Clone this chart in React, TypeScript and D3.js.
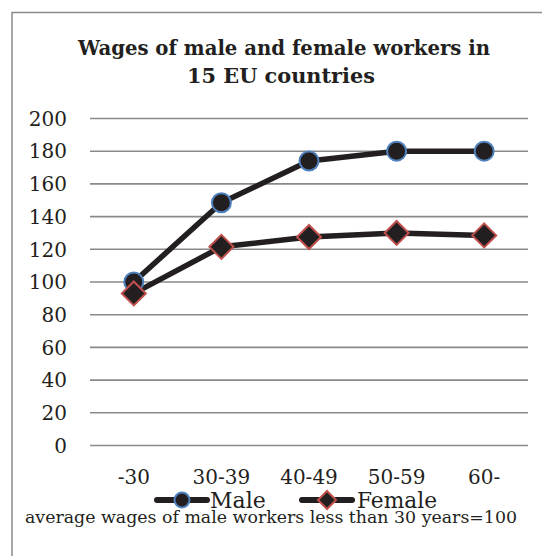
import React from "react";
import * as d3 from "d3";

// Age groups and wage index (male workers under 30 = 100)
const ageGroups = ["-30", "30-39", "40-49", "50-59", "60-"];
const maleWages = [100, 148.5, 174, 180, 180];
const femaleWages = [93, 121.5, 127.5, 130, 128.5];
const yTicks = [0, 20, 40, 60, 80, 100, 120, 140, 160, 180, 200];

const titleLines = ["Wages of male and female workers in", "15 EU countries"];
const footnote = "average wages of male workers less than 30 years=100";

const W = 542;
const H = 556;
const FONT = "'DejaVu Serif', 'Liberation Serif', serif";
const INK = "#231f20";
const GRID = "#8a8a8a";
const MALE_EDGE = "#4f81bd";
const FEMALE_EDGE = "#c0504d";

const x = d3.scaleBand<string>().domain(ageGroups).range([90, 528]);
const y = d3.scaleLinear().domain([0, 200]).range([445.5, 118.5]);
const cx = (d: string) => (x(d) ?? 0) + x.bandwidth() / 2;

const line = d3
  .line<number>()
  .x((_, i) => cx(ageGroups[i]))
  .y((v) => y(v));

const diamond = (r: number) => `M0,${-r}L${r},0L0,${r}L${-r},0Z`;

export default function App() {
  return (
    <svg
      width={W}
      height={H}
      style={{ position: "absolute", left: 0, top: 0, background: "#fff" }}
      fontFamily={FONT}
    >
      <rect x={0} y={0} width={W} height={H} fill="#fff" />
      {/* chart frame, continues past the right and bottom edges */}
      <rect x={12} y={12.5} width={W + 20} height={H + 20} fill="none" stroke={GRID} strokeWidth={1.5} />

      {/* title */}
      <text textAnchor="middle" fontWeight="bold" fontSize={20} fill={INK}>
        <tspan x={284} y={55} textLength={412} lengthAdjust="spacingAndGlyphs">{titleLines[0]}</tspan>
        <tspan x={281} y={83} textLength={188} lengthAdjust="spacingAndGlyphs">{titleLines[1]}</tspan>
      </text>

      {/* gridlines and y tick labels */}
      {yTicks.map((t) => (
        <g key={t}>
          <line x1={90} x2={528} y1={y(t)} y2={y(t)} stroke={GRID} strokeWidth={1.6} />
          <text x={67} y={y(t)} dy="0.36em" textAnchor="end" fontSize={20} fill={INK}>
            {t}
          </text>
        </g>
      ))}

      {/* x category labels */}
      {ageGroups.map((g) => (
        <text key={g} x={cx(g)} y={484} textAnchor="middle" fontSize={20} fill={INK}>
          {g}
        </text>
      ))}

      {/* series lines */}
      <path d={line(maleWages) ?? ""} fill="none" stroke={INK} strokeWidth={5.5} strokeLinejoin="round" />
      <path d={line(femaleWages) ?? ""} fill="none" stroke={INK} strokeWidth={5.5} strokeLinejoin="round" />

      {/* markers */}
      {maleWages.map((v, i) => (
        <circle key={"m" + i} cx={cx(ageGroups[i])} cy={y(v)} r={9.5} fill={INK} stroke={MALE_EDGE} strokeWidth={2} />
      ))}
      {femaleWages.map((v, i) => (
        <path
          key={"f" + i}
          d={diamond(12)}
          transform={`translate(${cx(ageGroups[i])},${y(v)})`}
          fill={INK}
          stroke={FEMALE_EDGE}
          strokeWidth={2}
        />
      ))}

      {/* legend */}
      <g>
        <line x1={157} x2={207} y1={500} y2={500} stroke={INK} strokeWidth={6} strokeLinecap="round" />
        <circle cx={182} cy={500} r={7.5} fill={INK} stroke={MALE_EDGE} strokeWidth={2} />
        <text x={210} y={507.5} fontSize={22} fill={INK}>Male</text>
        <line x1={302} x2={352} y1={500} y2={500} stroke={INK} strokeWidth={6} strokeLinecap="round" />
        <path d={diamond(9)} transform="translate(327,500)" fill={INK} stroke={FEMALE_EDGE} strokeWidth={2} />
        <text x={357} y={507.5} fontSize={22} fill={INK} textLength={80} lengthAdjust="spacingAndGlyphs">Female</text>
      </g>

      {/* footnote */}
      <text x={25} y={523} fontSize={17} fill={INK} textLength={492} lengthAdjust="spacingAndGlyphs">
        {footnote}
      </text>
    </svg>
  );
}
